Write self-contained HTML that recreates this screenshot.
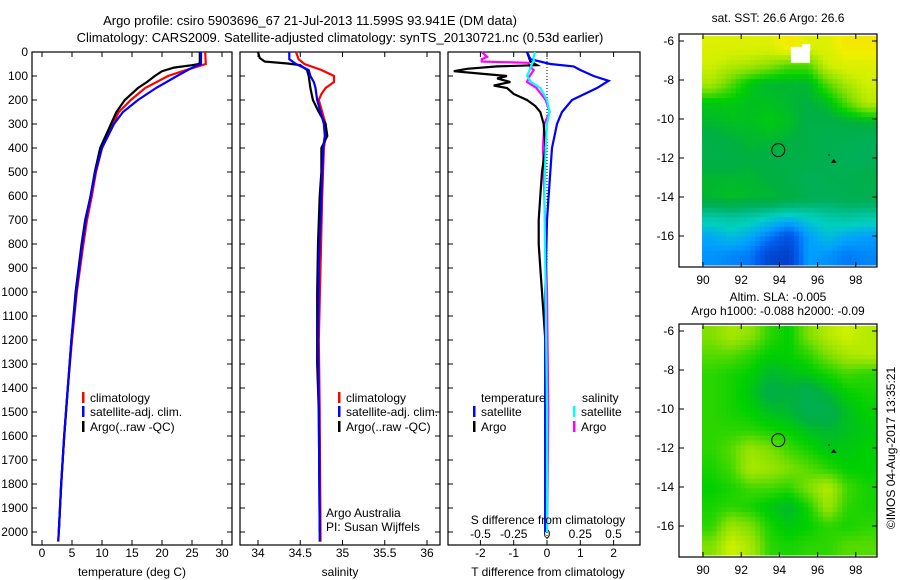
<!DOCTYPE html>
<html><head><meta charset="utf-8">
<style>
body{margin:0;background:#fff;}
svg{display:block;font-family:"Liberation Sans",sans-serif;font-size:12px;}
</style></head>
<body>
<svg id="c" width="900" height="580" xmlns="http://www.w3.org/2000/svg">
<text x="310" y="25" text-anchor="middle" font-size="13">Argo profile: csiro 5903696_67 21-Jul-2013 11.599S 93.941E (DM data)</text>
<text x="340" y="42" text-anchor="middle" font-size="13">Climatology: CARS2009. Satellite-adjusted climatology: synTS_20130721.nc (0.53d earlier)</text>
<g id="g"></g>
</svg>
<script>
// ---------- data ----------
const depthTicks=[0,100,200,300,400,500,600,700,800,900,1000,1100,1200,1300,1400,1500,1600,1700,1800,1900,2000];
const tempTicks=[0,5,10,15,20,25,30];
const salTicks=[34,34.5,35,35.5,36];
const salTickLabels=["34","34.5","35","35.5","36"];
const dTTicks=[-2,-1,0,1,2];
const dSTicks=[-0.5,-0.25,0,0.25,0.5];
const dSTickLabels=["-0.5","-0.25","0","0.25","0.5"];

const argoTDepth=[0,40,50,55,65,80,100,125,150,200,250,300,400,500,600,700,800,1000,1200,1400,1600,1800,2000];
const argoTemp=[26.3,26.3,26.2,25,22,20,18.8,17.5,16,13.8,12.4,11.5,9.7,8.8,8.1,7.2,6.6,5.6,4.9,4.3,3.7,3.2,2.8];
const climTDepth=[0,50,60,75,100,150,200,250,300,400,500,600,700,800,1000,1200,1400,1600,1800,2000,2040];
const climTemp=[27.2,27.3,26,24,21,17.2,14.8,12.8,11.8,10,9,8.3,7.5,6.9,5.8,5,4.3,3.7,3.2,2.8,2.7];
const satTemp=[26.5,26.5,25.5,24.3,22.5,19,16,13.5,12,10,8.9,8.1,7.3,6.7,5.7,4.9,4.3,3.7,3.2,2.8,2.7];

const argoSDepth=[0,25,40,48,55,75,100,150,200,250,300,350,400,500,600,800,1000,1300,1500,2000];
const argoSal=[34.0,34.02,34.08,34.35,34.5,34.58,34.6,34.62,34.65,34.72,34.8,34.82,34.75,34.75,34.73,34.71,34.7,34.7,34.72,34.73];
const climSDepth=[0,30,50,75,100,125,150,175,200,300,350,400,600,900,1200,1500,2000,2040];
const climSal=[34.45,34.48,34.55,34.75,34.9,34.9,34.8,34.75,34.72,34.8,34.8,34.78,34.76,34.74,34.72,34.73,34.74,34.74];
const satSal=[34.37,34.37,34.45,34.6,34.62,34.66,34.68,34.69,34.7,34.78,34.79,34.77,34.75,34.72,34.71,34.72,34.73,34.73];

const dTDepth=[0,40,55,60,70,80,90,100,110,125,140,150,175,200,225,250,300,400,500,600,700,800,900,1000,1200,1500,2000];
const argoDT=[-0.6,-0.5,-0.3,-1.5,-2.4,-2.8,-2.0,-1.2,-1.5,-1.1,-1.6,-1.2,-1.0,-0.6,-0.35,-0.2,-0.1,-0.05,-0.15,-0.2,-0.25,-0.25,-0.2,-0.15,-0.05,-0.05,-0.05];
const satDTDepth=[0,30,50,60,75,100,120,150,200,250,300,400,500,700,1000,2000];
const satDT=[-0.6,-0.5,0.1,0.8,1.0,1.4,1.85,1.5,0.75,0.45,0.3,0.15,0.1,0.0,-0.05,-0.05];
const dSDepth=[0,20,30,40,45,60,75,100,125,150,200,250,300,400,600,1000,1500,2000];
const argoDS=[-0.49,-0.45,-0.49,-0.49,-0.14,-0.13,-0.1,-0.13,-0.15,-0.08,-0.01,0.02,-0.02,-0.03,-0.02,0.0,0.01,0.0];
const satDS=[-0.09,-0.1,-0.1,-0.1,-0.11,-0.12,-0.13,-0.15,-0.12,-0.05,0.0,0.02,0.0,-0.01,-0.02,-0.01,0.0,0.0];

const lonTicks=[90,92,94,96,98];
const latTicks=[-6,-8,-10,-12,-14,-16];
const sstGrid=[
[5,5,5,5,5.5,5,5,5.5,5.5],
[4.8,4.6,4.5,4.3,4,4,4.8,5,5],
[4.5,4,3.5,3.3,3.3,3.3,4,4.5,4.8],
[3.5,3.5,3.4,3.4,3.3,3.2,3.4,4,4.6],
[3.3,3.4,3.4,3.5,3.4,3.1,3.1,3.2,3.3],
[3.1,3.2,3.3,3.3,3.2,3.1,3.0,3.0,2.9],
[3.1,3.1,3.2,3.1,3.1,3.1,3.0,2.9,2.9],
[3.3,3.3,3.3,3.2,3.1,2.9,3.0,3.0,3.1],
[3.3,3.4,3.3,3.3,3.2,3.0,2.9,3.0,3.0],
[2.2,2.3,2.2,2.0,1.8,2.0,2.2,2.3,2.2],
[1.6,1.8,1.6,1.2,0.8,1.5,1.8,1.6,1.5],
[1.4,1.3,1.2,0.6,0.5,1.5,1.4,1.2,1.3]];
const slaGrid=[
[4.2,4.5,4.3,3.8,3.6,4.2,4.6,4.8,4.6],
[4,4,3.8,3.6,3.6,3.8,4.2,4.5,4.6],
[3.8,3.7,3.6,3.3,3.4,3.5,3.7,3.9,3.8],
[3.8,3.7,3.5,3.1,3.2,3.0,3.3,3.6,3.7],
[3.8,3.7,3.6,3.4,3.3,3.0,3.0,3.4,3.6],
[3.8,3.8,3.8,3.7,3.6,3.4,3.3,3.4,3.5],
[3.8,4.0,4.4,4.2,3.9,3.7,3.5,3.5,3.6],
[3.7,3.9,4.5,4.4,4.2,4.0,3.8,3.6,3.6],
[3.6,3.7,3.9,3.9,3.8,4.2,4.6,3.9,3.7],
[3.7,3.8,3.7,3.5,3.3,3.7,4.4,3.8,3.7],
[3.8,4.4,4.2,3.7,3.5,3.6,3.8,3.7,3.8],
[4.2,4.8,4.5,3.8,3.7,3.8,3.8,4,4]];
const argoLon=93.941, argoLat=-11.599;

// ---------- drawing ----------
const NS="http://www.w3.org/2000/svg";
const G=document.getElementById('g');
function el(tag,attrs,txt){const e=document.createElementNS(NS,tag);for(const k in attrs)e.setAttribute(k,attrs[k]);if(txt!==undefined)e.textContent=txt;G.appendChild(e);return e;}
const PT=52,PB=545;
const yD=d=>PT+d*0.24;

function frame(x0,x1,name){
  const r=el('rect',{x:x0,y:PT,width:x1-x0,height:PB-PT,fill:'none',stroke:'#000','stroke-width':1.2});
  
  
  depthTicks.forEach(d=>{
    el('line',{x1:x0,x2:x0+5,y1:yD(d),y2:yD(d),stroke:'#000'});
    el('line',{x1:x1,x2:x1-5,y1:yD(d),y2:yD(d),stroke:'#000'});
  });
}
function xticks(x0,x1,ticks,labels,fx,ylab,name,top){
  ticks.forEach((t,i)=>{
    const x=fx(t);
    el('line',{x1:x,x2:x,y1:PB,y2:PB-5,stroke:'#000'});
    if(top!==false) el('line',{x1:x,x2:x,y1:PT,y2:PT+5,stroke:'#000'});
    const tx=el('text',{x:x,y:ylab,'text-anchor':'middle'},labels?labels[i]:String(t));
    
    
  });
}
function line(depths,vals,fx,color,name){
  const pts=depths.map((d,i)=>fx(vals[i]).toFixed(1)+','+yD(d).toFixed(1)).join(' ');
  const p=el('polyline',{points:pts,fill:'none',stroke:color,'stroke-width':2.2});
  
  
}
function legend(x,y,color,text,name){
  el('rect',{x:x,y:y-10,width:2.5,height:11,fill:color});
  const t=el('text',{x:x+8,y:y},text);
  
  
}

depthTicks.forEach(d=>{
  const t=el('text',{x:28,y:yD(d)+4,'text-anchor':'end'},String(d));
  
  
});

// Panel 1 temperature
const fT=t=>42+6*t;
frame(32,232,'temperature-panel');
xticks(32,232,tempTicks,null,fT,557,'temperature-tick-label');
line(climTDepth,climTemp,fT,'#f00','climatology-temp-line');
line(argoTDepth,argoTemp,fT,'#000','argo-temp-line');
line(climTDepth,satTemp,fT,'#00f','satellite-temp-line');
legend(82,402,'#f00','climatology','legend-climatology');
legend(82,416,'#00f','satellite-adj. clim.','legend-satellite');
legend(82,431,'#000','Argo(..raw -QC)','legend-argo');
let t=el('text',{x:132,y:576,'text-anchor':'middle'},'temperature (deg C)');



// Panel 2 salinity
const fS=s=>258+(s-34)*84.5;
frame(240,440,'salinity-panel');
xticks(240,440,salTicks,salTickLabels,fS,557,'salinity-tick-label');
line(climSDepth,climSal,fS,'#f00','climatology-sal-line');
line(argoSDepth,argoSal,fS,'#000','argo-sal-line');
line(climSDepth,satSal,fS,'#00f','satellite-sal-line');
legend(338,402,'#f00','climatology','legend-climatology-2');
legend(338,416,'#00f','satellite-adj. clim.','legend-satellite-2');
legend(338,431,'#000','Argo(..raw -QC)','legend-argo-2');
t=el('text',{x:326,y:517},'Argo Australia');
t=el('text',{x:326,y:531},'PI: Susan Wijffels');
t=el('text',{x:340,y:576,'text-anchor':'middle'},'salinity');

// Panel 3 differences
const fdT=v=>547+33.3*v;
const fdS=v=>547+133*v;
frame(448,640,'difference-panel');
el('line',{x1:547,x2:547,y1:PT,y2:PB,stroke:'#000','stroke-dasharray':'1,2'});
xticks(448,640,dTTicks,null,fdT,557,'t-diff-tick-label');
dSTicks.forEach((v,i)=>{
  const tx=el('text',{x:fdS(v),y:538,'text-anchor':'middle'},dSTickLabels[i]);
  
  
});
line(dSDepth,argoDS,fdS,'#f0f','argo-sal-diff-line');
line(dTDepth,argoDT,fdT,'#000','argo-temp-diff-line');
line(satDTDepth,satDT,fdT,'#00f','satellite-temp-diff-line');
line(dSDepth,satDS,fdS,'#0ff','satellite-sal-diff-line');
t=el('text',{x:481,y:402},'temperature');
t=el('text',{x:582,y:402},'salinity');
legend(473,416,'#00f','satellite','legend-temp-satellite');
legend(473,431,'#000','Argo','legend-temp-argo');
legend(573,416,'#0ff','satellite','legend-sal-satellite');
legend(573,431,'#f0f','Argo','legend-sal-argo');
t=el('text',{x:548,y:524,'text-anchor':'middle'},'S difference from climatology');
t=el('text',{x:548,y:576,'text-anchor':'middle'},'T difference from climatology');

// Maps
const stops=[[0,[0,32,160]],[1,[0,96,240]],[1.5,[0,160,255]],[2,[0,208,192]],[2.8,[0,176,96]],[3.2,[0,176,64]],[3.6,[0,208,0]],[4.2,[128,224,0]],[4.8,[208,240,0]],[5.3,[240,240,0]],[6,[255,208,0]]];
function cmap(v){
  for(let i=1;i<stops.length;i++){if(v<=stops[i][0]){const a=stops[i-1],b=stops[i];const f=(v-a[0])/(b[0]-a[0]);const c=a[1].map((x,k)=>Math.round(x+(b[1][k]-x)*f));return 'rgb('+c.join(',')+')';}}
  return 'rgb(255,208,0)';
}
function sample(grid,r,c){
  const R=grid.length,C=grid[0].length;
  r=Math.max(0,Math.min(R-1,r));c=Math.max(0,Math.min(C-1,c));
  const r0=Math.floor(r),c0=Math.floor(c),r1=Math.min(R-1,r0+1),c1=Math.min(C-1,c0+1);
  const fr=r-r0,fc=c-c0;
  return grid[r0][c0]*(1-fr)*(1-fc)+grid[r0][c1]*(1-fr)*fc+grid[r1][c0]*fr*(1-fc)+grid[r1][c1]*fr*fc;
}
function map(oy,grid,name,whitePatch){
  const fx=lon=>703+(lon-90)*19.1;
  const fy=lat=>oy+41+(-6-lat)*19.5;
  const ix0=702,ix1=876,iy0=oy+36,iy1=oy+265;
  const rows=grid.length,cols=grid[0].length,S=4;
  const cw=(ix1-ix0)/(cols*S),ch=(iy1-iy0)/(rows*S);
  for(let r=0;r<rows*S;r++)for(let c=0;c<cols*S;c++){
    const v=sample(grid,(r+0.5)/S-0.5,(c+0.5)/S-0.5);
    const cell=el('rect',{x:(ix0+c*cw).toFixed(2),y:(iy0+r*ch).toFixed(2),width:(cw+0.5).toFixed(2),height:(ch+0.5).toFixed(2),fill:cmap(v)});
    
    
  }
  if(whitePatch){el('rect',{x:fx(94.6),y:fy(-6.3),width:19,height:16,fill:'#fff'});el('rect',{x:fx(95.2),y:fy(-6.15),width:8,height:7,fill:'#fff'});}
  const f=el('rect',{x:679,y:oy+34,width:198,height:233,fill:'none',stroke:'#000','stroke-width':1.2});
  
  
  lonTicks.forEach(l=>{
    el('line',{x1:fx(l),x2:fx(l),y1:oy+267,y2:oy+262,stroke:'#000'});
    el('line',{x1:fx(l),x2:fx(l),y1:oy+34,y2:oy+39,stroke:'#000'});
    const tx=el('text',{x:fx(l),y:oy+284,'text-anchor':'middle'},String(l));
    
    
  });
  latTicks.forEach(l=>{
    el('line',{x1:679,x2:684,y1:fy(l),y2:fy(l),stroke:'#000'});
    el('line',{x1:877,x2:872,y1:fy(l),y2:fy(l),stroke:'#000'});
    const tx=el('text',{x:674,y:fy(l)+4,'text-anchor':'end'},String(l));
    
    
  });
  const c=el('circle',{cx:fx(argoLon),cy:fy(argoLat),r:6.5,fill:'none',stroke:'#000','stroke-width':1});
  
  
  el('polygon',{points:[fx(96.85),fy(-12.05),fx(96.7),fy(-12.25),fx(97),fy(-12.25)].reduce((a,v,i)=>a+(i%2?','+v:' '+v),''),fill:'#000'});
  el('rect',{x:fx(96.55),y:fy(-11.82),width:2,height:1,fill:'#000'});
}
map(0,sstGrid,'sst-map',true);
map(290,slaGrid,'sla-map',false);
t=el('text',{x:778,y:22,'text-anchor':'middle'},'sat. SST: 26.6 Argo: 26.6');
t=el('text',{x:778,y:301,'text-anchor':'middle'},'Altim. SLA: -0.005');
t=el('text',{x:778,y:315,'text-anchor':'middle'},'Argo h1000: -0.088 h2000: -0.09');
t=el('text',{x:0,y:0,'text-anchor':'middle',transform:'translate(895,448) rotate(-90)'},'©IMOS 04-Aug-2017 13:35:21');
</script>
</body></html>
